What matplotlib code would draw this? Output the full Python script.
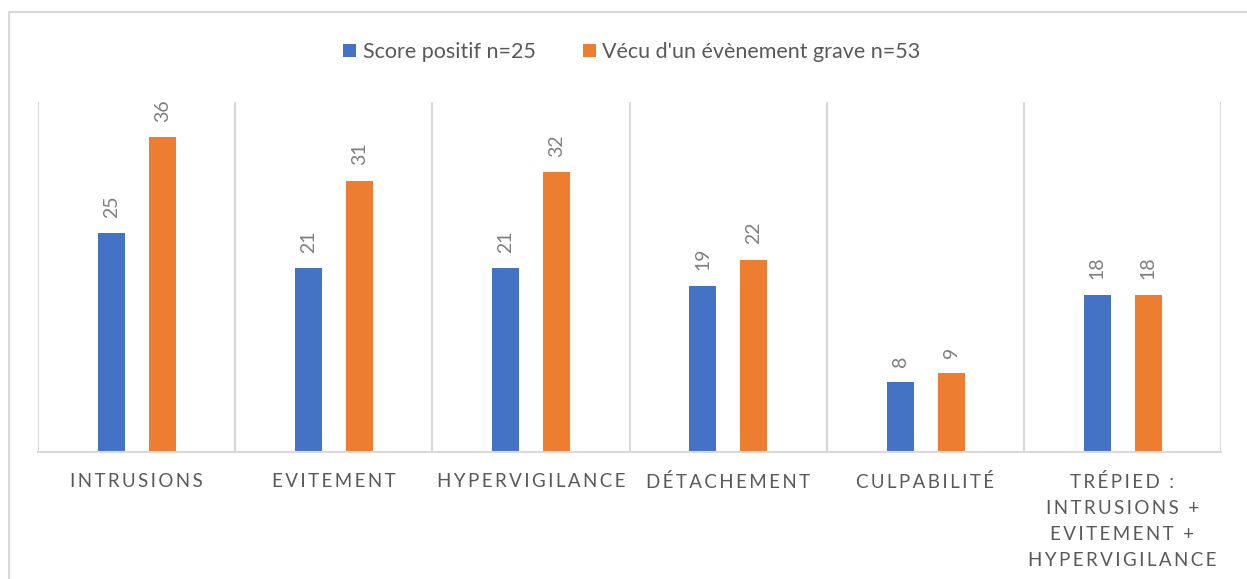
import numpy as np
import matplotlib.pyplot as plt
from matplotlib.patches import Rectangle

categories = ['INTRUSIONS', 'EVITEMENT', 'HYPERVIGILANCE', 'DÉTACHEMENT', 'CULPABILITÉ',
              'TRÉPIED :\nINTRUSIONS +\nEVITEMENT +\nHYPERVIGILANCE']
score_positif = [25, 21, 21, 19, 8, 18]
evenement_grave = [36, 31, 32, 22, 9, 18]
series_names = ['Score positif n=25', "Vécu d'un évènement grave n=53"]
colors = ['#4472C4', '#ED7D31']

plt.rcParams['font.family'] = ['Lato', 'DejaVu Sans']


def spaced(text):
    # imitate the wide letter spacing of the axis labels
    return '\n'.join('\u2009'.join(line) for line in text.split('\n'))


fig = plt.figure(figsize=(12.47, 5.79), dpi=100)
ax = fig.add_axes([38 / 1247, 127 / 579, 1183 / 1247, 350 / 579])

# outer chart frame
fig.patches.append(Rectangle((9 / 1247, -0.1), 1.2, (579 - 12) / 579 + 0.1,
                             transform=fig.transFigure, fill=False,
                             edgecolor='#D9D9D9', linewidth=1.5))

x = np.arange(len(categories))
w = 0.137
bars1 = ax.bar(x - 0.128, score_positif, w, color=colors[0], label=series_names[0])
bars2 = ax.bar(x + 0.131, evenement_grave, w, color=colors[1], label=series_names[1])

for bars in (bars1, bars2):
    for b in bars:
        ax.annotate(str(int(b.get_height())), (b.get_x() + b.get_width() / 2, b.get_height()),
                    xytext=(0, 11), textcoords='offset points', rotation=90,
                    ha='center', va='bottom', fontsize=14, color='#7F7F7F')

for b in np.arange(len(categories) + 1) - 0.5:
    ax.axvline(b, color='#D9D9D9', linewidth=1.5, zorder=0)

ax.set_xlim(-0.5, len(categories) - 0.5)
ax.set_ylim(0, 40)
ax.set_xticks(x)
ax.set_xticklabels([spaced(c) for c in categories], fontsize=13.5, color='#595959',
                   linespacing=1.64, va='top')
ax.tick_params(axis='x', length=0, pad=15)
ax.set_yticks([])
for s in ['top', 'left', 'right']:
    ax.spines[s].set_visible(False)
ax.spines['bottom'].set_color('#D9D9D9')
ax.spines['bottom'].set_linewidth(1.5)

fig.legend(loc='center', bbox_to_anchor=(632 / 1247, 1 - 52 / 579), ncol=2, frameon=False,
           fontsize=15.5, handlelength=0.6, handleheight=0.6, handletextpad=0.3,
           columnspacing=2.2, labelcolor='#595959')

fig.savefig('out.png', dpi=100)
